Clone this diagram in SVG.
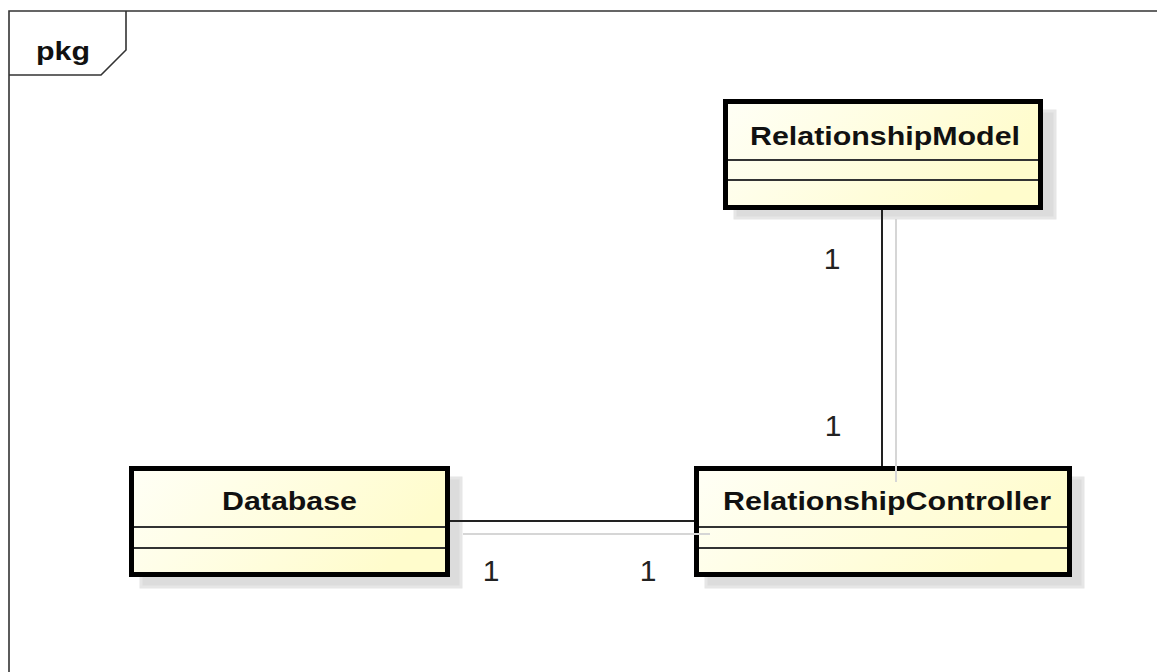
<svg xmlns="http://www.w3.org/2000/svg" width="1157" height="672" viewBox="0 0 1157 672">
  <style>
    .frame { fill: none; stroke: #333333; stroke-width: 1.6; }
    .shadow { fill: #dcdcdc; stroke: #e6e6e6; stroke-width: 3; }
    .box { fill: url(#classFill); stroke: #000000; stroke-width: 5; }
    .divider { stroke: #333333; stroke-width: 2; }
    .name { font-family: "Liberation Sans", Arial, sans-serif; font-weight: bold; font-size: 25px; fill: #111111; text-anchor: middle; }
    .title { font-family: "Liberation Sans", Arial, sans-serif; font-weight: bold; font-size: 25px; fill: #111111; }
    .mult { font-family: "Liberation Sans", Arial, sans-serif; font-size: 30px; fill: #222222; text-anchor: middle; }
    .edge { fill: none; stroke: #222222; stroke-width: 2; }
    .edge-shadow { fill: none; stroke: #d6d6d6; stroke-width: 2; }
  </style>
  <defs>
    <linearGradient id="classFill" x1="0" y1="0" x2="1" y2="0.3">
      <stop offset="0" stop-color="#fffff6"/>
      <stop offset="1" stop-color="#fffccc"/>
    </linearGradient>
  </defs>

  <rect width="1157" height="672" fill="#ffffff"/>

  <!-- package frame -->
  <g id="frame">
    <path class="frame" d="M9,672 V11 H1157"/>
    <path class="frame" d="M126,11 V50 L101,75 H9"/>
    <text class="title" x="36" y="60" textLength="54" lengthAdjust="spacingAndGlyphs">pkg</text>
  </g>

  <g id="RelationshipModel">
    <rect class="shadow" x="735" y="111" width="320" height="107"/>
    <rect class="box" x="725.5" y="101.5" width="315" height="106"/>
    <line class="divider" x1="728" y1="160" x2="1038" y2="160"/>
    <line class="divider" x1="728" y1="180" x2="1038" y2="180"/>
    <text class="name" x="885" y="145" textLength="270" lengthAdjust="spacingAndGlyphs">RelationshipModel</text>
  </g>

  <g id="Database">
    <rect class="shadow" x="141" y="478" width="320" height="109"/>
    <rect class="box" x="131.5" y="468.5" width="316" height="106"/>
    <line class="divider" x1="134" y1="527" x2="445" y2="527"/>
    <line class="divider" x1="134" y1="548" x2="445" y2="548"/>
    <text class="name" x="289.5" y="510" textLength="135" lengthAdjust="spacingAndGlyphs">Database</text>
  </g>

  <g id="RelationshipController">
    <rect class="shadow" x="706" y="478" width="377" height="109"/>
    <rect class="box" x="696.5" y="468.5" width="373" height="106"/>
    <line class="divider" x1="699" y1="527" x2="1067" y2="527"/>
    <line class="divider" x1="699" y1="548" x2="1067" y2="548"/>
    <text class="name" x="887" y="510" textLength="328" lengthAdjust="spacingAndGlyphs">RelationshipController</text>
  </g>

  <!-- associations with their light drop shadows -->
  <g id="connectors">
    <line class="edge-shadow" x1="896" y1="219" x2="896" y2="482"/>
    <line class="edge-shadow" x1="463" y1="534" x2="710" y2="534"/>
    <line class="edge" x1="882" y1="210" x2="882" y2="466"/>
    <line class="edge" x1="450" y1="521" x2="694" y2="521"/>
    <text class="mult" x="832" y="269">1</text>
    <text class="mult" x="833" y="436">1</text>
    <text class="mult" x="491" y="581">1</text>
    <text class="mult" x="648" y="581">1</text>
  </g>
</svg>
